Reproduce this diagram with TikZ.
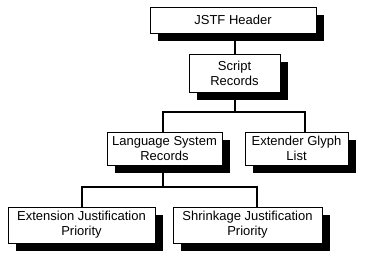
\documentclass[tikz,border=0pt]{standalone}
\usepackage{fontspec}
\setmainfont{Liberation Sans}
\usetikzlibrary{calc, shadows}

\begin{document}
\begin{tikzpicture}[x=1pt, y=-1pt, font=\fontsize{13}{15}\selectfont,
    box/.style={draw, fill=white, line width=1pt, align=center, inner sep=0pt,
        general shadow={fill=black, shadow xshift=8pt, shadow yshift=-8pt}},
    conn/.style={line width=2pt}]

    % Fix the page size
    \useasboundingbox (0,0) rectangle (374,258);

    % Boxes of the tree
    \node[box, minimum width=166pt, minimum height=26pt] (header) at (233,20) {JSTF Header};
    \node[box, minimum width=91pt, minimum height=38pt] (script) at (234.5,73) {Script\\Records};
    \node[box, minimum width=115pt, minimum height=33pt] (lang) at (164.5,148.5) {Language System\\Records};
    \node[box, minimum width=103pt, minimum height=33pt] (glyph) at (296.5,148.5) {Extender Glyph\\List};
    \node[box, minimum width=147pt, minimum height=36pt] (extension) at (81.5,225) {Extension Justification\\Priority};
    \node[box, minimum width=149pt, minimum height=36pt] (shrink) at (247.5,225) {Shrinkage Justification\\Priority};

    % Branch points
    \coordinate (bus1) at (234.5,112);
    \coordinate (bus2) at (163,187);

    % Connectors
    \draw[conn] (script.north) -- (script.north |- header.south);
    \draw[conn] (script.south) -- (bus1);
    \draw[conn] ([xshift=-1.5pt]lang.north) |- (bus1) -| ([xshift=8.5pt]glyph.north);
    \draw[conn] ([xshift=-1.5pt]lang.south) -- (bus2);
    \draw[conn] (extension.north) |- (bus2) -| ([xshift=9.5pt]shrink.north);

\end{tikzpicture}
\end{document}
